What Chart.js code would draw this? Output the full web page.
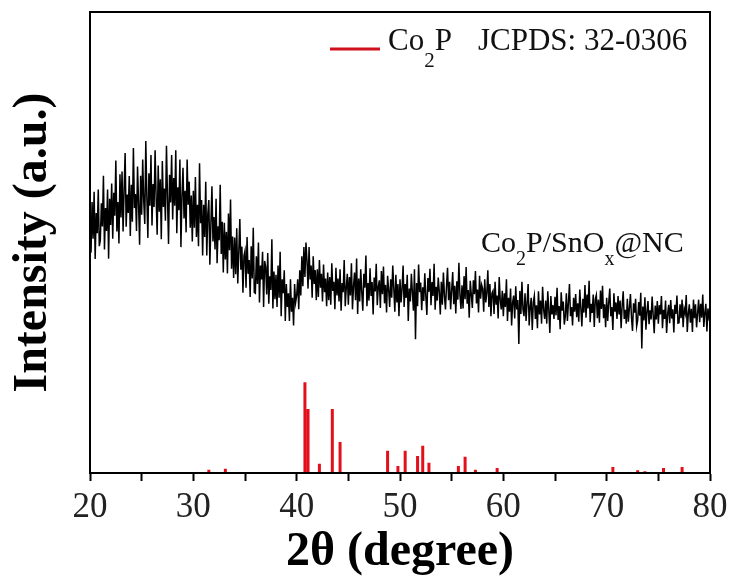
<!DOCTYPE html>
<html>
<head>
<meta charset="utf-8">
<script src="https://cdn.jsdelivr.net/npm/chart.js@4/dist/chart.umd.min.js"></script>
<style>
  html, body { margin: 0; padding: 0; background: #fff; }
  #wrap { width: 734px; height: 578px; }
</style>
</head>
<body>
<div id="wrap"><canvas id="xrd"></canvas></div>
<script>
// 2-theta sampling of the measured pattern
const thetaStart = 20;
const thetaStep = 0.1;

// Co2P/SnOx@NC pattern, one row per degree (20.0 ... 79.9), then 80.0
const intensity = [
  548, 478, 588, 508, 610, 464, 564, 520, 615, 492,
  505, 585, 535, 645, 485, 575, 525, 615, 465, 595,
  538, 628, 508, 608, 558, 678, 524, 588, 498, 648,
  554, 654, 524, 614, 694, 534, 604, 564, 644, 514,
  625, 545, 705, 575, 605, 525, 665, 585, 495, 645,
  560, 680, 590, 540, 720, 600, 510, 650, 580, 690,
  537, 627, 577, 700, 597, 517, 667, 567, 637, 507,
  677, 577, 617, 547, 710, 597, 497, 647, 587, 690,
  550, 640, 580, 700, 520, 620, 570, 680, 490, 600,
  662, 552, 612, 522, 680, 582, 632, 532, 602, 502,
  612, 532, 642, 512, 582, 492, 672, 542, 592, 472,
  582, 512, 632, 472, 562, 592, 452, 542, 622, 502,
  555, 485, 595, 455, 535, 505, 625, 475, 545, 435,
  543, 463, 523, 433, 563, 483, 593, 443, 513, 423,
  511, 431, 531, 411, 481, 551, 441, 491, 391, 471,
  482, 402, 512, 432, 462, 382, 492, 422, 532, 392,
  390, 470, 410, 500, 370, 450, 420, 480, 360, 460,
  447, 387, 477, 367, 427, 397, 507, 357, 437, 377,
  430, 360, 450, 380, 480, 340, 420, 390, 440, 330,
  410, 360, 390, 330, 420, 350, 380, 320, 410, 370,
  385, 420, 355, 440, 385, 470, 405, 490, 425, 500,
  460, 400, 490, 420, 450, 380, 470, 410, 440, 375,
  442, 382, 462, 402, 432, 372, 452, 392, 422, 362,
  435, 375, 425, 365, 455, 395, 415, 355, 445, 385,
  422, 372, 442, 352, 412, 392, 462, 362, 402, 432,
  365, 425, 385, 455, 355, 405, 435, 375, 465, 345,
  422, 372, 442, 392, 352, 432, 402, 472, 362, 412,
  374, 444, 384, 414, 344, 424, 394, 454, 364, 404,
  418, 358, 438, 388, 448, 368, 408, 348, 428, 398,
  360, 420, 380, 450, 400, 350, 430, 370, 410, 340,
  420, 370, 400, 450, 360, 410, 380, 430, 330, 400,
  372, 432, 392, 352, 442, 290, 412, 362, 452, 392,
  413, 353, 403, 373, 433, 383, 343, 423, 393, 443,
  364, 414, 384, 454, 354, 404, 374, 424, 394, 344,
  415, 365, 435, 385, 355, 405, 445, 375, 415, 355,
  396, 436, 366, 406, 346, 416, 376, 456, 386, 356,
  407, 357, 427, 377, 447, 367, 397, 337, 417, 387,
  358, 418, 388, 438, 368, 398, 348, 428, 378, 408,
  400, 350, 420, 370, 390, 440, 360, 410, 340, 390,
  395, 345, 415, 365, 385, 335, 425, 375, 355, 395,
  340, 390, 360, 420, 330, 380, 350, 400, 320, 370,
  385, 335, 405, 355, 375, 280, 395, 345, 415, 355,
  340, 390, 330, 370, 410, 320, 360, 380, 310, 370,
  384, 334, 364, 314, 394, 344, 374, 324, 404, 354,
  334, 374, 324, 394, 354, 304, 384, 344, 364, 334,
  382, 342, 402, 332, 362, 312, 392, 352, 372, 322,
  340, 390, 330, 370, 410, 340, 360, 320, 380, 350,
  388, 338, 368, 328, 398, 358, 318, 378, 348, 408,
  337, 387, 357, 417, 327, 367, 347, 387, 317, 377,
  386, 336, 376, 326, 396, 356, 406, 336, 366, 316,
  380, 330, 370, 400, 340, 360, 310, 390, 350, 370,
  334, 384, 344, 374, 314, 364, 394, 334, 354, 324,
  378, 328, 358, 388, 338, 308, 368, 348, 378, 318,
  331, 371, 341, 391, 270, 361, 331, 381, 311, 351,
  373, 323, 353, 333, 383, 343, 303, 363, 333, 373,
  324, 364, 344, 384, 314, 354, 334, 374, 304, 344,
  365, 325, 375, 335, 355, 305, 365, 345, 385, 325,
  326, 366, 336, 376, 316, 356, 346, 386, 306, 346,
  366, 326, 356, 306, 376, 336, 366, 316, 346, 376,
  327, 367, 337, 387, 317, 347, 367, 307, 357, 337,
  345
];

// Co2P reference lines (JCPDS 32-0306)
const refPos = [27.1, 31.5, 33.1, 40.8, 41.1, 42.2, 43.45, 44.2, 48.8, 49.8,
  50.5, 51.7, 52.2, 52.8, 55.65, 56.3, 57.3, 58.4, 59.4, 65.2,
  70.6, 73.0, 73.7, 75.5, 77.3];
const refInt = [2, 7, 9, 197, 139, 20, 139, 67, 48, 15,
  48, 37, 59, 22, 15, 35, 7, 2, 11, 2,
  13, 6, 4, 11, 13];

const xMin = 20, xMax = 80;
const tickLabels = ['20', '30', '40', '50', '60', '70', '80'];

const serif = '"Liberation Serif", "Times New Roman", serif';

const trace = intensity.map((y, i) => ({ x: +(thetaStart + i * thetaStep).toFixed(1), y: y }));
const sticks = [];
refPos.forEach((p, i) => {
  sticks.push({ x: p, y: 0 }, { x: p, y: refInt[i] }, { x: p, y: null });
});

// text with subscripts: [text, isSub]
function richText(ctx, parts, x, y, size, sub, drop) {
  parts.forEach(([t, isSub]) => {
    ctx.font = (isSub ? sub : size) + 'px ' + serif;
    ctx.fillText(t, x, isSub ? y + drop : y);
    x += ctx.measureText(t).width;
  });
}

const decor = {
  id: 'decor',
  afterDraw(chart) {
    const { ctx, chartArea: a } = chart;
    ctx.save();
    ctx.strokeStyle = '#000';
    ctx.lineWidth = 2;
    ctx.strokeRect(a.left, a.top, a.right - a.left, a.bottom - a.top);

    // legend
    ctx.strokeStyle = '#d0101c';
    ctx.lineWidth = 3;
    ctx.beginPath();
    ctx.moveTo(330, 49);
    ctx.lineTo(380, 49);
    ctx.stroke();

    ctx.fillStyle = '#111';
    ctx.textBaseline = 'alphabetic';
    ctx.textAlign = 'left';
    richText(ctx, [['Co', false], ['2', true], ['P', false]], 388, 50, 31, 21, 17);
    ctx.font = '31px ' + serif;
    ctx.fillText('JCPDS: 32-0306', 478, 50);

    // sample label
    richText(ctx, [['Co', false], ['2', true], ['P/SnO', false], ['x', true], ['@NC', false]],
      481, 252, 30, 20, 13);
    ctx.restore();
  }
};

new Chart(document.getElementById('xrd'), {
  type: 'line',
  data: {
    datasets: [
      {
        label: 'Co2P/SnOx@NC',
        data: trace,
        borderColor: '#000',
        borderWidth: 1.5,
        pointRadius: 0,
        tension: 0
      },
      {
        label: 'Co2P JCPDS: 32-0306',
        data: sticks,
        borderColor: '#e3101b',
        borderWidth: 3,
        borderCapStyle: 'butt',
        pointRadius: 0,
        spanGaps: false
      }
    ]
  },
  options: {
    responsive: true,
    maintainAspectRatio: false,
    animation: false,
    layout: { padding: { top: 12, right: 24, left: 0, bottom: 0 } },
    plugins: {
      legend: { display: false },
      tooltip: { enabled: false }
    },
    scales: {
      x: {
        type: 'linear',
        min: xMin,
        max: xMax,
        offset: false,
        afterFit: s => { s.height = 105; },
        border: { display: true, color: '#000', width: 2 },
        grid: { display: true, drawOnChartArea: false, drawTicks: true, tickLength: 8, tickWidth: 2, color: '#000' },
        ticks: {
          stepSize: 5,
          padding: 6,
          color: '#222',
          font: { family: serif, size: 35 },
          maxRotation: 0,
          autoSkip: false,
          callback: v => {
            const s = String(v);
            return tickLabels.includes(s) ? s : '';
          }
        },
        title: {
          display: true,
          text: '2θ (degree)',
          color: '#000',
          font: { family: serif, size: 48, weight: 'bold', lineHeight: 1.05 },
          padding: { top: 0, bottom: 0 }
        }
      },
      y: {
        min: 0,
        max: 1000,
        afterFit: s => { s.width = 90; },
        border: { display: true, color: '#000', width: 2 },
        grid: { display: false, drawTicks: false },
        ticks: { display: false },
        title: {
          display: true,
          text: 'Intensity (a.u.)',
          color: '#000',
          font: { family: serif, size: 48, weight: 'bold', lineHeight: 1.05 },
          padding: { top: 8, bottom: 0 }
        }
      }
    }
  },
  plugins: [decor]
});
</script>
</body>
</html>
